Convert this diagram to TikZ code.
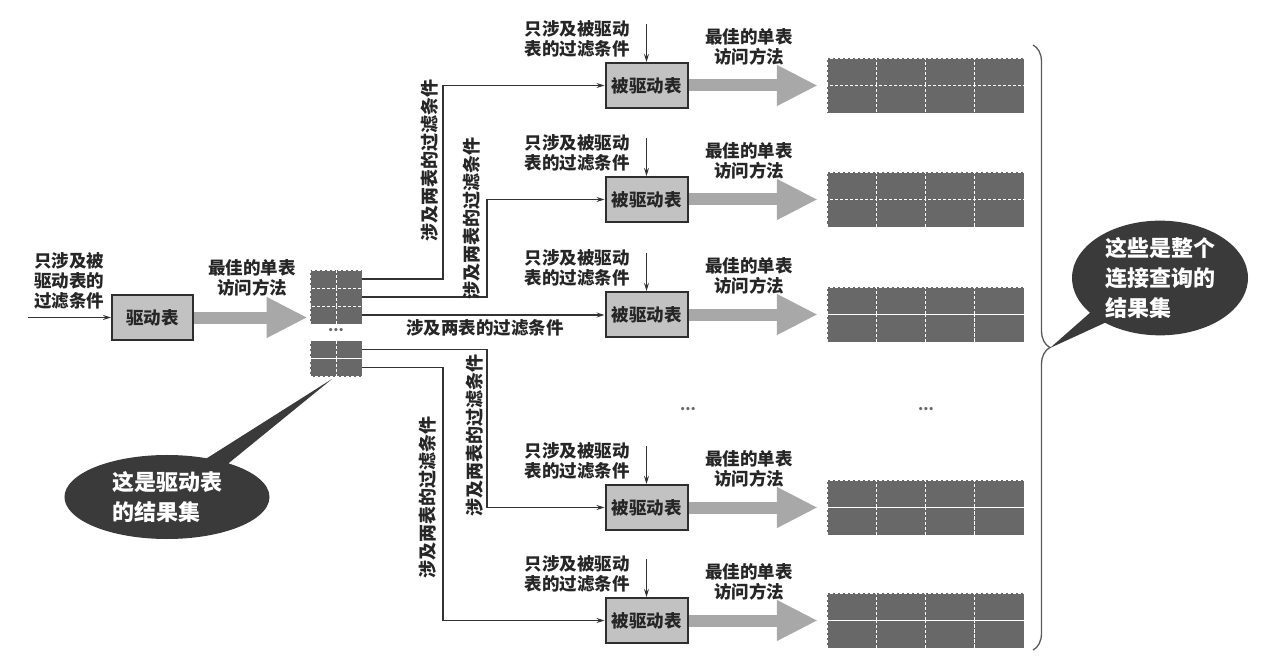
\documentclass[tikz,border=0pt]{standalone}
\usepackage{fontspec}
\setmainfont{Noto Sans CJK SC}
\usetikzlibrary{arrows.meta,shapes.callouts,decorations.pathreplacing,calc}
\definecolor{boxfill}{HTML}{C2C2C2}
\definecolor{boxline}{HTML}{2E2E2E}
\definecolor{arrgray}{HTML}{A8A8A8}
\definecolor{cellgray}{HTML}{686868}
\definecolor{bubble}{HTML}{3A3A3A}
\definecolor{linegray}{HTML}{333333}
\begin{document}
\begin{tikzpicture}[x=1pt,y=-1pt,
  lbl/.style={font=\bfseries\fontsize{17.5}{20}\selectfont, text=black!85, align=center, inner sep=0},
  vlbl/.style={lbl, rotate=90, font=\bfseries\fontsize{18}{20}\selectfont},
  tbl/.style={draw=boxline, line width=2pt, fill=boxfill, minimum width=82pt, minimum height=45pt, inner sep=0, font=\bfseries\fontsize{17.5}{20}\selectfont, text=black!85},
  conn/.style={draw=linegray, line width=1.1pt, -{Stealth[length=8pt,width=5pt]}},
  bigarr/.style={draw=arrgray, line width=12pt, -{Triangle[length=41pt,width=38pt]}},
  cell/.style={rectangle, fill=cellgray, draw=white, densely dashed, line width=0.9pt, inner sep=0, minimum width=49.25pt, minimum height=27.5pt},
  scell/.style={cell, minimum width=26pt, minimum height=18pt},
  gridarea/.style={rectangle, inner sep=0, minimum width=197pt, minimum height=55pt},
  bubblenode/.style={ellipse callout, fill=bubble, inner sep=0, text=white, align=left, font=\bfseries\fontsize{22}{30}\selectfont},
  dots/.style={font=\bfseries\fontsize{15}{15}\selectfont, text=black!60, inner sep=0}
]
\useasboundingbox (0,0) rectangle (1271,663);

% driving table
\node[tbl, minimum width=81pt] (d) at (152.5,317.5) {驱动表};
\coordinate (in) at (28,317.5);
\draw[conn] (in) -- (d.west);
\node[lbl] (lin) at (69,281) {只涉及被\\驱动表的\\过滤条件};

% small result grid of the driving table
\foreach \r/\y in {1/279,2/297,3/315,4/349.5,5/367.5}{
  \node[scell] (r\r a) at (323,\y) {};
  \node[scell] (r\r b) at (349,\y) {};
}
\node[dots] (sd) at (336,330) {...};

\draw[bigarr, shorten >=2pt] (d.east) -- (d.east -| r3a.west);
\node[lbl] (lbest0) at (252,278) {最佳的单表\\访问方法};

% driven tables and their result sets
\foreach \i/\y in {1/85.5,2/199.5,3/314.5,4/507.5,5/620.5}{
  \node[tbl] (b\i) at (646.5,\y) {被驱动表};
  \node[lbl] (t\i) at (577,\y-47) {只涉及被驱动\\表的过滤条件};
  \draw[conn] ($(b\i.north)+(0,-38)$) -- (b\i.north);
  \node[lbl] (m\i) at (749,\y-39) {最佳的单表\\访问方法};
  \foreach \j in {0,1,2,3}{
    \node[cell] (g\i c\j a) at (851.6+49.25*\j,\y-13.75) {};
    \node[cell] (g\i c\j b) at (851.6+49.25*\j,\y+13.75) {};
  }
  \node[gridarea] (g\i) at (925.5,\y) {};
  \draw[bigarr, shorten >=9pt] (b\i.east) -- (g\i.west);
}

% connectors from the driving result set
\coordinate (va) at (443,0);
\coordinate (vb) at (487,0);
\draw[conn] (r1b.east) -- (r1b.east -| va) |- (b1.west);
\draw[conn] (r2b.east) -- (r2b.east -| vb) |- (b2.west);
\draw[conn] (r3b.east) -- (r3b.east -| b3.west);
\draw[conn] (r4b.east) -- (r4b.east -| vb) |- (b4.west);
\draw[conn] (r5b.east) -- (r5b.east -| va) |- (b5.west);

\node[vlbl] (v1) at (430,160) {涉及两表的过滤条件};
\node[vlbl] (v2) at (472,218) {涉及两表的过滤条件};
\node[lbl] (h3) at (485,328) {涉及两表的过滤条件};
\node[vlbl] (v4) at (475,435) {涉及两表的过滤条件};
\node[vlbl] (v5) at (428,497) {涉及两表的过滤条件};

\node[dots] (md) at (688,409) {...};
\node[dots] (rd) at (926,409) {...};

% brace
\draw[decorate, decoration={brace, amplitude=17pt}, line width=1.3pt, draw=black!65] (1033,45) -- (1033,650);
\coordinate (bt) at (1050,348);

% callouts
\coordinate (lt) at (332,379);
\node[bubblenode, minimum width=205pt, minimum height=84pt, callout absolute pointer={(lt)}, callout pointer arc=14] (lc) at (167,497) {这是驱动表\\的结果集};
\node[bubblenode, minimum width=176pt, minimum height=100pt, callout absolute pointer={(bt)}, callout pointer arc=14] (rc) at (1160,278) {这些是整个\\连接查询的\\结果集};
\end{tikzpicture}
\end{document}
